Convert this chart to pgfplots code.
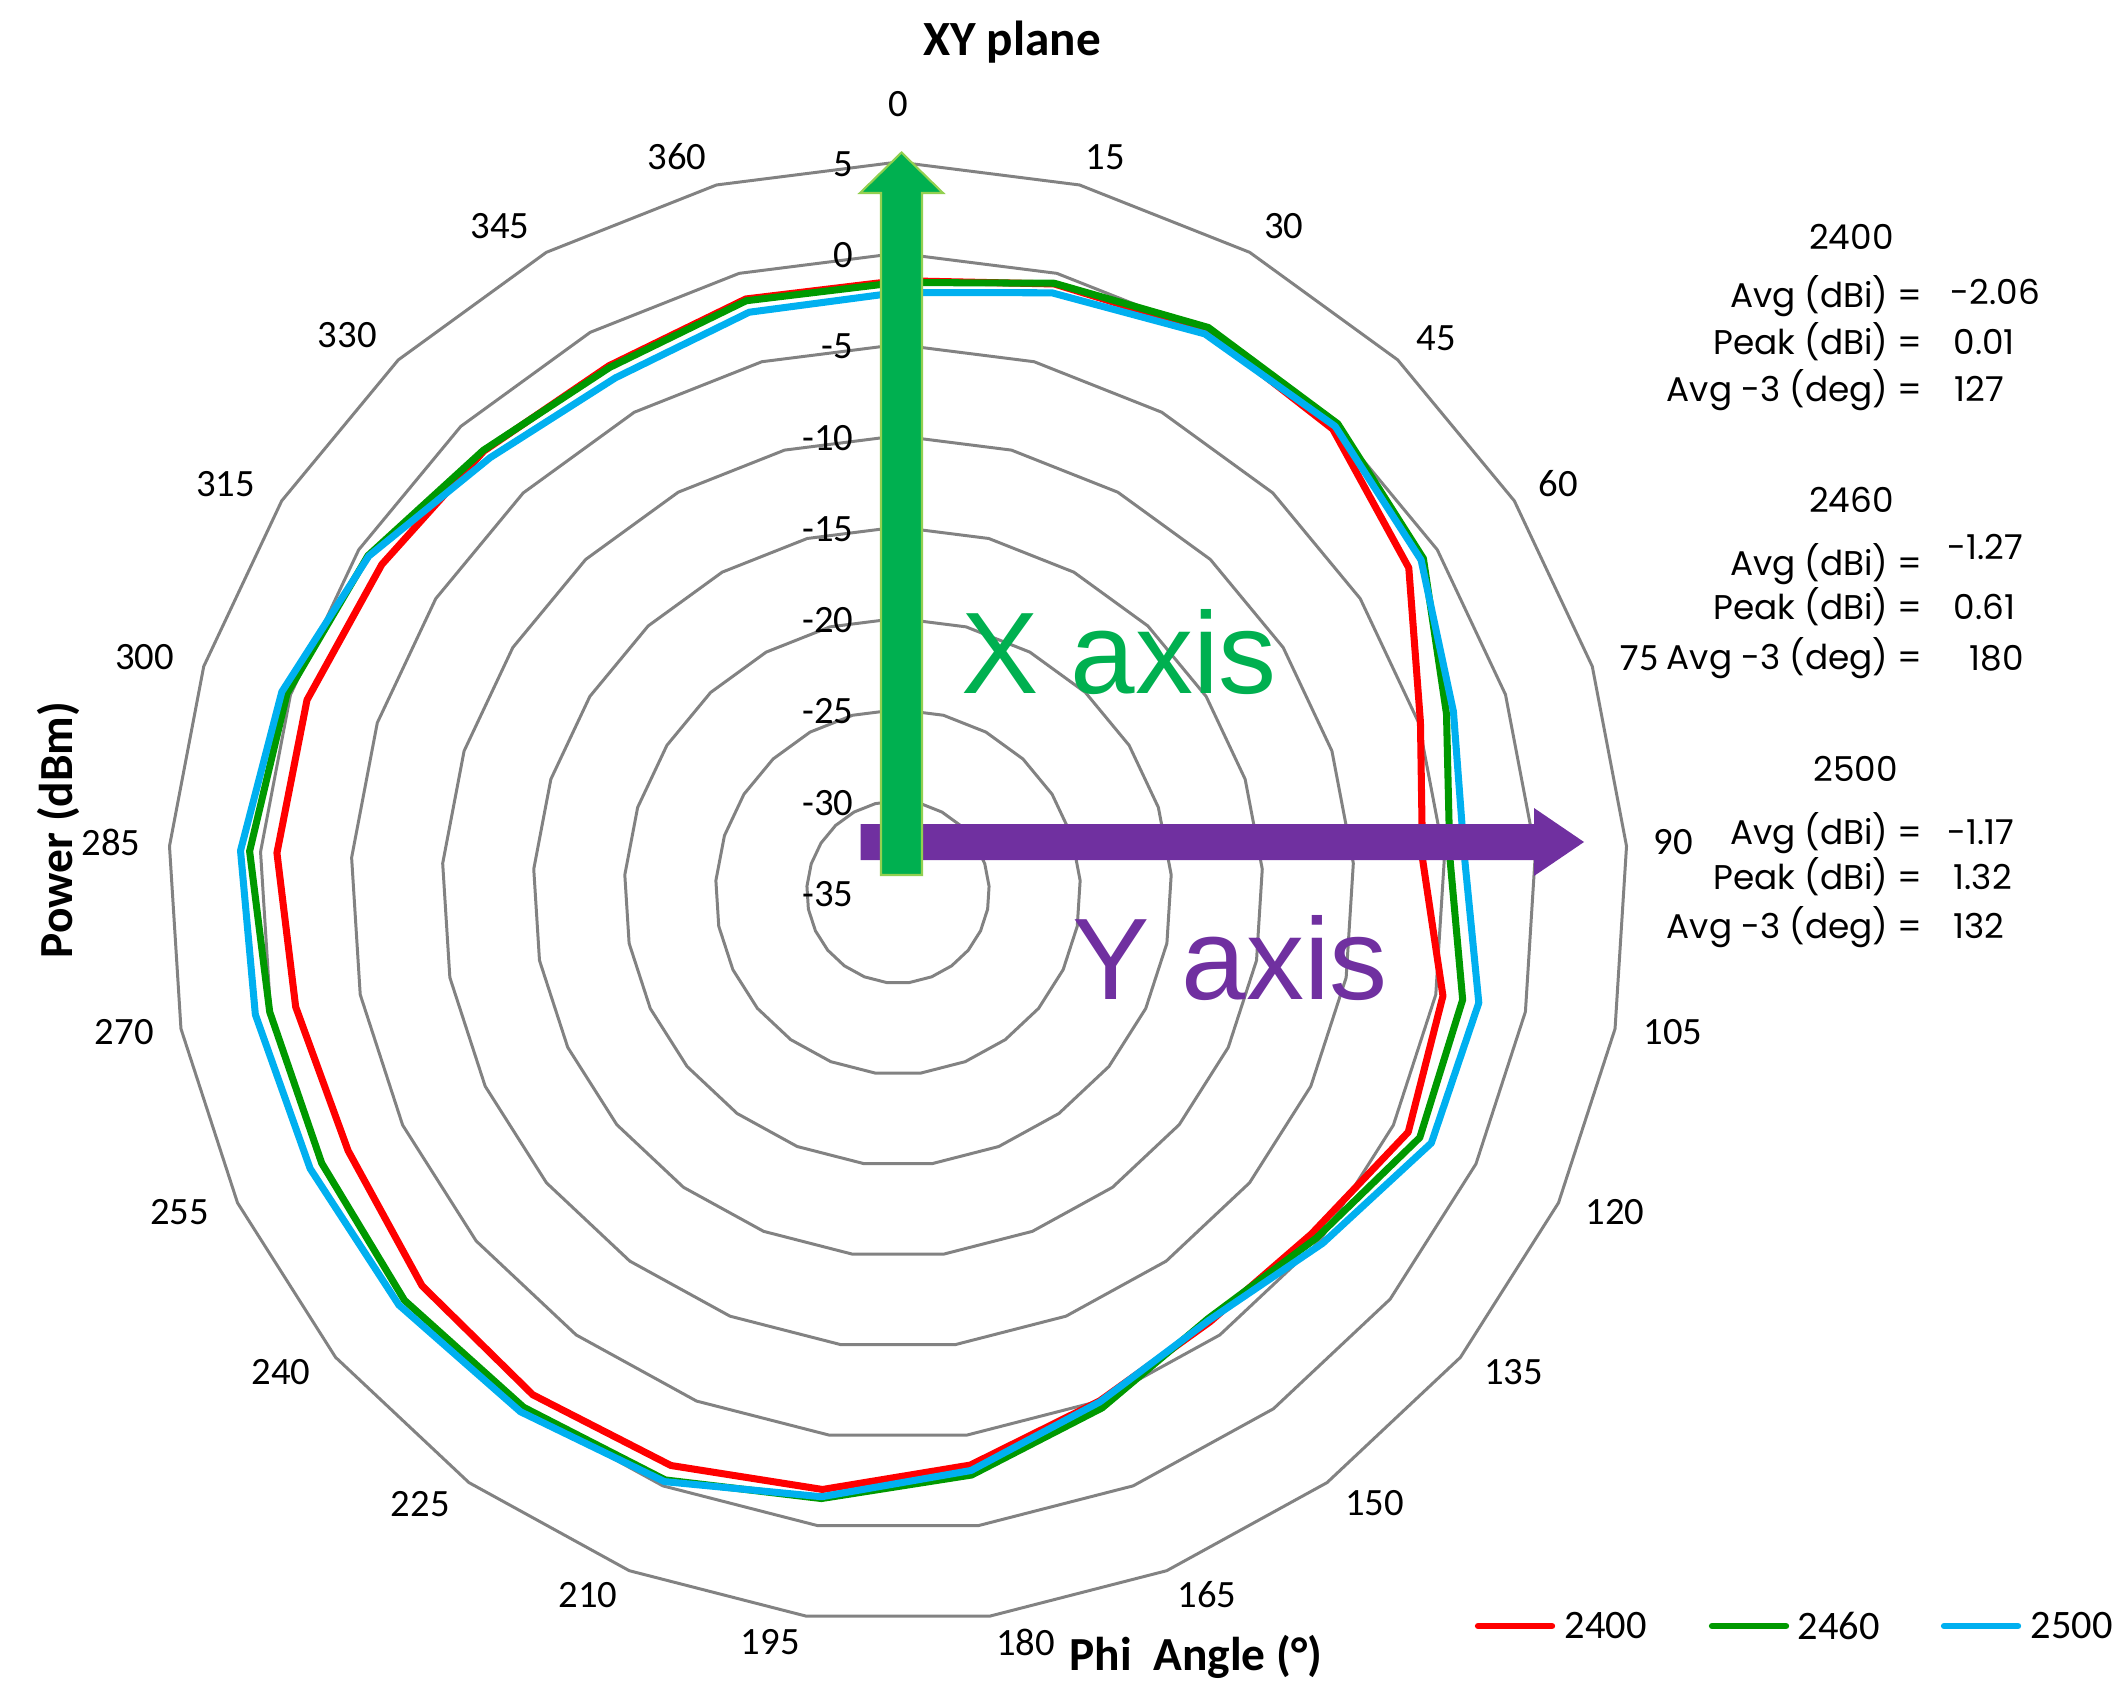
\documentclass[border=0pt]{standalone}
\usepackage{pgfplots}
\pgfplotsset{compat=1.18}
\usepackage{pgfplotstable}
\usepackage{fontspec}
\setmainfont{Carlito}
\newfontfamily\statfont{Poppins}
\newfontfamily\arialfont{Liberation Sans}
\definecolor{cRed}{RGB}{255,0,0}
\definecolor{cGreen}{RGB}{0,153,0}
\definecolor{cBlue}{RGB}{0,176,240}
\definecolor{gridgray}{RGB}{130,130,130}
\definecolor{arrowgreen}{RGB}{0,176,80}
\definecolor{arrowedge}{RGB}{146,208,80}
\definecolor{apurple}{RGB}{112,48,160}

% phi = Phi angle (deg); r = 2400, g = 2460, b = 2500 (dBm); last row closes the loop
\pgfplotstableread{
phi r g b
0 -1.5 -1.6 -2.15
15 -0.6 -0.56 -1.1
30 0.1 0.3 -0.1
45 -0.2 0.2 0.0
60 -1.85 -0.9 -1.05
75 -4.9 -3.4 -3.0
90 -6.2 -4.7 -3.9
105 -4.6 -3.5 -2.6
120 -4.1 -3.4 -2.7
135 -5.6 -5.25 -4.8
150 -5.9 -6.1 -6.0
165 -5.0 -4.6 -4.95
180 -3.35 -2.8 -3.05
195 -2.0 -1.5 -1.6
210 -1.2 -0.35 -0.25
225 -0.95 -0.1 0.2
240 -1.15 0.1 0.5
255 -1.7 -0.1 0.6
270 -1.4 0.05 0.85
285 -0.9 0.6 1.1
300 -0.95 0.2 0.5
315 -1.5 -0.6 -0.65
330 -1.85 -1.8 -2.35
345 -2.1 -2.2 -2.85
360 -1.45 -1.55 -2.2
0 -1.5 -1.6 -2.15
}\patterndata

\begin{document}
\begin{tikzpicture}[x=1cm,y=1cm,font=\fontsize{11}{13}\selectfont]
\path[use as bounding box] (0,0) rectangle (21.19,16.96);
\begin{axis}[at={(8.98cm,8.04cm)}, anchor=center, scale only axis,
  width=14.6cm, height=14.6cm, xmin=-40, xmax=40, ymin=-40, ymax=40,
  hide axis, clip=false]
\pgfplotsinvokeforeach{5,10,15,20,25,30,35,40}{
  \addplot[gridgray, line width=0.85pt, line join=round]
    table[x expr={#1*sin(0.96*\thisrow{phi})}, y expr={#1*cos(0.96*\thisrow{phi})}]{\patterndata};
}
\addplot[cRed, line width=2pt, line join=round]
  table[x expr={(\thisrow{r}+35)*sin(0.96*\thisrow{phi})}, y expr={(\thisrow{r}+35)*cos(0.96*\thisrow{phi})}]{\patterndata};
\addplot[cGreen, line width=2pt, line join=round]
  table[x expr={(\thisrow{g}+35)*sin(0.96*\thisrow{phi})}, y expr={(\thisrow{g}+35)*cos(0.96*\thisrow{phi})}]{\patterndata};
\addplot[cBlue, line width=2pt, line join=round]
  table[x expr={(\thisrow{b}+35)*sin(0.96*\thisrow{phi})}, y expr={(\thisrow{b}+35)*cos(0.96*\thisrow{phi})}]{\patterndata};
\end{axis}

% radial value labels
\foreach \v in {-35,-30,...,5}
  \node[anchor=east, inner sep=0pt] at (8.54,{8.04+(\v+35)*0.1825-0.02}) {\v};

% category labels
\foreach \lab/\X/\Y in {0/898.6/104, 15/1105.4/156.8, 30/1283.8/225.7, 45/1436.5/337.9,
  60/1558/483.8, 75/1639.2/658.1, 90/1673/842, 105/1673/1032.5, 120/1615/1212,
  135/1513.6/1371.7, 150/1374.4/1502.8, 165/1206.8/1594.7, 180/1025.7/1642,
  195/770.3/1642, 210/587.9/1594.7, 225/420.3/1504, 240/281/1371.7, 255/179.7/1212,
  270/124.3/1032.5, 285/110.8/842, 300/144.6/656.8, 315/225.7/483.8, 330/347.3/335.1,
  345/500/225.7, 360/677/156.8}
  \node[inner sep=0pt] at ({\X/100},{16.96-\Y/100}) {\lab};

% arrows
\fill[apurple] (8.607,8.72) -- (15.34,8.72) -- (15.34,8.88) -- (15.84,8.54) -- (15.34,8.20) -- (15.34,8.36) -- (8.607,8.36) -- cycle;
\filldraw[fill=arrowgreen, draw=arrowedge, line width=0.6pt] (8.81,8.21) -- (9.22,8.21) -- (9.22,15.03) -- (9.43,15.03) -- (9.015,15.435) -- (8.60,15.03) -- (8.81,15.03) -- cycle;

\node[text=arrowgreen, font=\arialfont\fontsize{33}{36}\selectfont, inner sep=0pt] at (11.19,10.44) {X axis};
\node[text=apurple, font=\arialfont\fontsize{33}{36}\selectfont, inner sep=0pt] at (12.30,7.38) {Y axis};

% titles
\node[font=\bfseries\fontsize{14}{16}\selectfont, inner sep=0pt] at (10.12,16.54) {XY plane};
\node[font=\bfseries\fontsize{13.5}{15}\selectfont, inner sep=0pt] at (11.96,0.39) {Phi\ \ Angle (°)};
\node[font=\bfseries\fontsize{13.5}{15}\selectfont, inner sep=0pt, rotate=90] at (0.58,8.66) {Power (dBm)};

% statistics
\begin{scope}[font=\statfont\fontsize{9.75}{12}\selectfont]
\node[inner sep=0pt] at (18.514,14.595) {2400};
\node[anchor=mid east, inner sep=0pt] at (19.23,13.973) {Avg (dBi) =};
\node[anchor=mid east, inner sep=0pt] at (19.23,13.50) {Peak (dBi) =};
\node[anchor=mid east, inner sep=0pt] at (19.23,13.027) {Avg -3 (deg) =};
\node[anchor=mid west, inner sep=0pt] at (19.50,14.00) {-2.06};
\node[anchor=mid west, inner sep=0pt] at (19.53,13.50) {0.01};
\node[anchor=mid west, inner sep=0pt] at (19.54,13.03) {127};

\node[inner sep=0pt] at (18.514,11.96) {2460};
\node[anchor=mid east, inner sep=0pt] at (19.23,11.284) {Avg (dBi) =};
\node[anchor=mid east, inner sep=0pt] at (19.23,10.852) {Peak (dBi) =};
\node[anchor=mid east, inner sep=0pt] at (19.23,10.352) {Avg -3 (deg) =};
\node[anchor=mid west, inner sep=0pt] at (19.47,11.446) {-1.27};
\node[anchor=mid west, inner sep=0pt] at (19.53,10.852) {0.61};
\node[anchor=mid west, inner sep=0pt] at (19.69,10.34) {180};

\node[inner sep=0pt] at (18.555,9.27) {2500};
\node[anchor=mid east, inner sep=0pt] at (19.23,8.595) {Avg (dBi) =};
\node[anchor=mid east, inner sep=0pt] at (19.23,8.15) {Peak (dBi) =};
\node[anchor=mid east, inner sep=0pt] at (19.23,7.662) {Avg -3 (deg) =};
\node[anchor=mid west, inner sep=0pt] at (19.47,8.595) {-1.17};
\node[anchor=mid west, inner sep=0pt] at (19.53,8.15) {1.32};
\node[anchor=mid west, inner sep=0pt] at (19.53,7.662) {132};
\end{scope}

% legend
\begin{scope}[font=\fontsize{11.5}{13}\selectfont]
\draw[cRed, line width=1.8pt, line cap=round] (14.78,0.70) -- (15.52,0.70);
\node[anchor=west, inner sep=0pt] at (15.64,0.70) {2400};
\draw[cGreen, line width=1.8pt, line cap=round] (17.12,0.70) -- (17.86,0.70);
\node[anchor=west, inner sep=0pt] at (17.97,0.70) {2460};
\draw[cBlue, line width=1.8pt, line cap=round] (19.44,0.70) -- (20.18,0.70);
\node[anchor=west, inner sep=0pt] at (20.30,0.70) {2500};
\end{scope}
\end{tikzpicture}
\end{document}
